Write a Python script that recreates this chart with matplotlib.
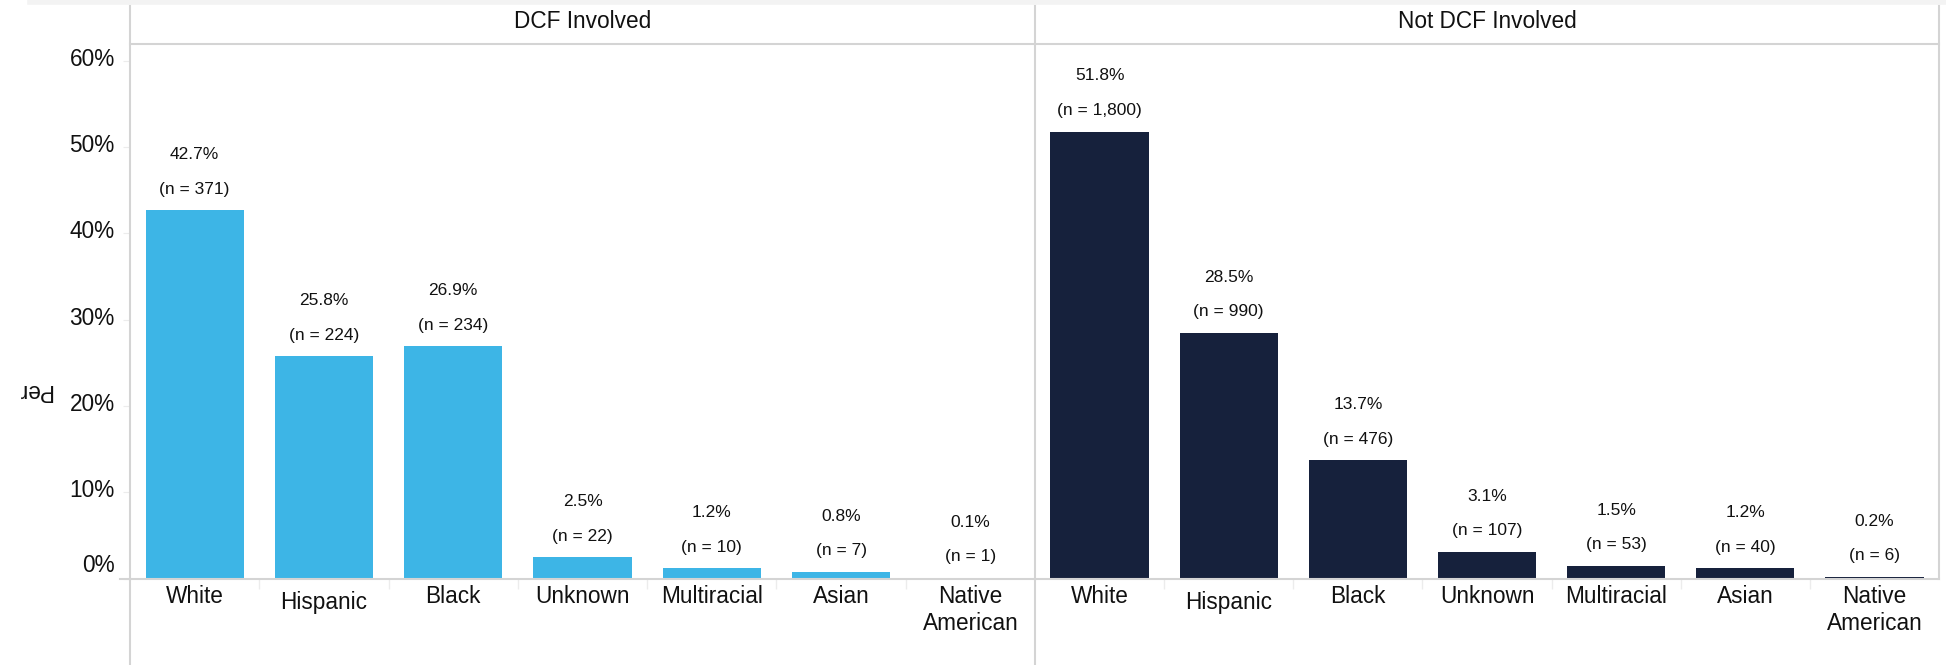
import numpy as np
import matplotlib.pyplot as plt
from matplotlib.lines import Line2D
from matplotlib.transforms import ScaledTranslation

plt.rcParams['font.family'] = ['Liberation Sans', 'DejaVu Sans']

# data
categories = ["White", "Hispanic", "Black", "Unknown", "Multiracial", "Asian", "Native\nAmerican"]
panels = ["DCF Involved", "Not DCF Involved"]
dcf_pct = [42.7, 25.8, 26.9, 2.5, 1.2, 0.8, 0.1]
dcf_n = ["371", "224", "234", "22", "10", "7", "1"]
not_dcf_pct = [51.8, 28.5, 13.7, 3.1, 1.5, 1.2, 0.2]
not_dcf_n = ["1,800", "990", "476", "107", "53", "40", "6"]
y_ticks = [0, 10, 20, 30, 40, 50, 60]

W, H = 1946, 665
DPI = 100
fig = plt.figure(figsize=(W / DPI, H / DPI), dpi=DPI)

GRID = "#d4d4d4"
x_left, x_mid, x_right = 130, 1035, 1939
y_base, y_head = 578.5, 43.5

def fx(px):
    return px / W

def fy(py):
    return 1 - py / H

def shift(txt, dy_px):
    txt.set_transform(txt.get_transform() + ScaledTranslation(0, dy_px / DPI, fig.dpi_scale_trans))

bottom = fy(y_base)
height = fy(y_head) - bottom
ax1 = fig.add_axes([fx(x_left), bottom, fx(x_mid - x_left), height])
ax2 = fig.add_axes([fx(x_mid), bottom, fx(x_right - x_mid), height])

series = [(ax1, dcf_pct, dcf_n, "#3db5e6"), (ax2, not_dcf_pct, not_dcf_n, "#16213c")]
x = np.arange(len(categories))
for ax, pct, nvals, col in series:
    ax.bar(x, pct, width=0.76, color=col)
    for xi, p, n in zip(x, pct, nvals):
        ax.annotate("(n = %s)" % n, (xi, p), xytext=(0, 15), textcoords="offset points",
                    ha="center", va="center", fontsize=12.5, color="#111111")
        ax.annotate("%.1f%%" % p, (xi, p), xytext=(0, 40), textcoords="offset points",
                    ha="center", va="center", fontsize=12.5, color="#111111")
    ax.set_xlim(-0.5, len(categories) - 0.5)
    ax.set_ylim(0, 62)
    for s in ["top", "right", "left"]:
        ax.spines[s].set_visible(False)
    ax.spines["bottom"].set_color(GRID)
    ax.spines["bottom"].set_linewidth(1.5)
    ax.set_xticks(x)
    ax.set_xticklabels(categories, fontsize=16.3, color="#111111", va="top")
    ax.set_xticks(np.arange(0.5, len(categories) - 1, 1), minor=True)
    ax.tick_params(axis="x", which="major", length=0, pad=5)
    ax.tick_params(axis="x", which="minor", length=7, color="#ececec", width=1)
    # Hispanic label sits a little lower in the reference
    shift(ax.get_xticklabels()[1], -6)

ax1.set_yticks(y_ticks)
ax1.set_yticklabels(["%d%%" % v for v in y_ticks], fontsize=16.3, color="#111111")
ax1.tick_params(axis="y", length=5, color="#ececec", pad=6)
for i, lab in enumerate(ax1.get_yticklabels()):
    shift(lab, 16 if i == 0 else 4)
ax2.set_yticks([])

# panel frame lines
fig.add_artist(Line2D([fx(30), 1], [fy(2), fy(2)], color="#f3f3f3", linewidth=4))
fig.add_artist(Line2D([fx(x_left), fx(x_left)], [0, fy(6)], color=GRID, linewidth=1.5))
fig.add_artist(Line2D([fx(x_mid), fx(x_mid)], [0, fy(6)], color=GRID, linewidth=1.5))
fig.add_artist(Line2D([fx(x_right), fx(x_right)], [fy(y_base), fy(6)], color=GRID, linewidth=1.5))
fig.add_artist(Line2D([fx(x_left), fx(x_right)], [fy(y_head), fy(y_head)], color=GRID, linewidth=1.5))
fig.add_artist(Line2D([fx(x_left - 10), fx(x_left)], [fy(y_base), fy(y_base)], color=GRID, linewidth=1.5))

for name, a, b in [(panels[0], x_left, x_mid), (panels[1], x_mid, x_right)]:
    fig.text(fx((a + b) / 2), fy(21), name, ha="center", va="center", fontsize=16.3, color="#111111")

# axis title, upside down and cut short as in the reference
fig.text(fx(52), fy(390), "Per", rotation=180, ha="right", va="center",
         fontsize=16.3, color="#111111")

fig.savefig("out.png", dpi=DPI)
